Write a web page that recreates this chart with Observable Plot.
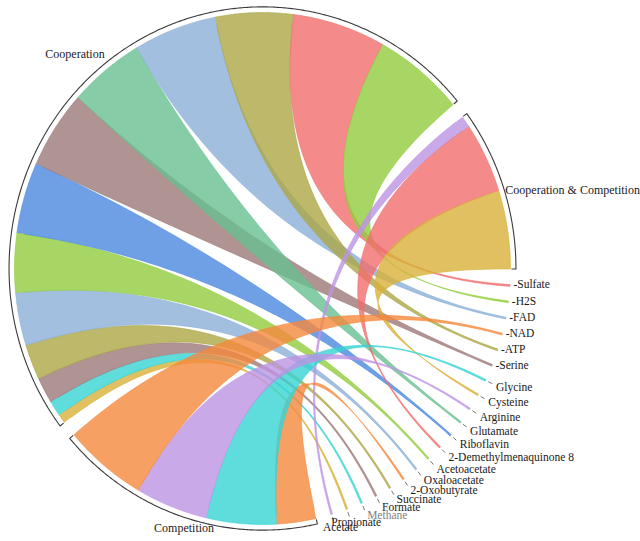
<!DOCTYPE html>
<html>
<head>
<meta charset="utf-8">
<script src="https://cdn.jsdelivr.net/npm/d3@7"></script>
<script src="https://cdn.jsdelivr.net/npm/@observablehq/plot@0.6"></script>
<style>
  body { margin: 0; background: #fff; }
</style>
</head>
<body>
<div id="chart"></div>
<script>
// Interaction types and the metabolites they exchange
const groups = ["Cooperation", "Cooperation & Competition", "Competition"];
const metabolites = [
  "Sulfate", "H2S", "FAD", "NAD", "ATP", "Serine", "Glycine", "Cysteine",
  "Arginine", "Glutamate", "Riboflavin", "2-Demethylmenaquinone 8",
  "Acetoacetate", "Oxaloacetate", "2-Oxobutyrate", "Succinate", "Formate",
  "Methane", "Propionate", "Acetate"
];

// Links of each group, listed clockwise along the group's arc
const coopTargets = ["Propionate", "Methane", "Formate", "Succinate", "Oxaloacetate",
  "Acetoacetate", "Riboflavin", "Serine", "Glutamate", "FAD", "ATP", "Sulfate", "H2S"];
const coopValues = [2.1, 3.5, 5.9, 8, 12, 13.5, 16.1, 17.8, 17.6, 19.5, 18.2, 21.8, 21.2];
const coopColors = ["gold", "turquoise", "brown", "olive", "steel", "green", "blue",
  "brown", "aqua", "steel", "olive", "salmon", "green"];

const mixTargets = ["Acetate", "2-Demethylmenaquinone 8", "Cysteine"];
const mixValues = [2.6, 16, 17.8];
const mixColors = ["purple", "salmon", "gold"];

const compTargets = ["2-Oxobutyrate", "Glycine", "Arginine", "NAD"];
const compValues = [9.2, 16.4, 16.9, 19.5];
const compColors = ["orange", "turquoise", "purple", "orange"];

// Ribbon palette
const palette = {
  green: "#92cc3e", salmon: "#f16d6d", olive: "#aca645", steel: "#8bafd8",
  aqua: "#68bf90", brown: "#9c7878", blue: "#4b88e0", turquoise: "#37d3d3",
  gold: "#d8b038", purple: "#bd94e4", orange: "#f5883d"
};

// ---- layout (angles in degrees, clockwise from 12 o'clock; values are in degrees) ----
const W = 640, H = 541;
const cx = 262, cy = 268, rx = 248, ry = 256;
const gap = 3.5, metaWidth = 0.4, startAngle = -127;
const total = d3.sum([...coopValues, ...mixValues, ...compValues]);
const metaStep = (360 - total - 4 * gap - metaWidth) / (metabolites.length - 1);

const links = [], arcs = [];
let a = startAngle;
function addGroup(name, targets, values, colors) {
  const a0 = a;
  targets.forEach((t, i) => {
    links.push({group: name, target: t, s0: a, s1: a + values[i], color: palette[colors[i]]});
    a += values[i];
  });
  arcs.push({name, a0, a1: a});
  a += gap;
}
addGroup(groups[0], coopTargets, coopValues, coopColors);
addGroup(groups[1], mixTargets, mixValues, mixColors);
const metaAngle = new Map(metabolites.map((m, i) => [m, a + i * metaStep]));
a += (metabolites.length - 1) * metaStep + metaWidth + gap;
addGroup(groups[2], compTargets, compValues, compColors);

// ---- geometry in unit-circle coordinates ----
const rad = d => d * Math.PI / 180;
const pt = (deg, r) => ({x: r * Math.sin(rad(deg)), y: -r * Math.cos(rad(deg))});
function arcPts(d0, d1, r, step = 0.4) {
  const n = Math.max(2, Math.ceil(Math.abs(d1 - d0) / step));
  return d3.range(n + 1).map(i => pt(d0 + (d1 - d0) * i / n, r));
}
// quadratic Bézier with its control point at the centre
function quad(p0, p2, n = 60) {
  return d3.range(1, n).map(i => {
    const t = i / n, u = 1 - t;
    return {x: u * u * p0.x + t * t * p2.x, y: u * u * p0.y + t * t * p2.y};
  });
}
function ribbon(l) {
  const t0 = metaAngle.get(l.target), t1 = t0 + metaWidth;
  return [
    ...arcPts(l.s0, l.s1, 1),
    ...quad(pt(l.s1, 1), pt(t0, 1)),
    ...arcPts(t0, t1, 1),
    ...quad(pt(t1, 1), pt(l.s0, 1))
  ];
}
const rb = 1.022, tickIn = 0.018;
function bracket(g) {
  return [pt(g.a0, rb - tickIn), ...arcPts(g.a0, g.a1, rb), pt(g.a1, rb - tickIn)];
}

// ---- labels ----
const metaLabels = metabolites.map(m => ({name: m, mid: metaAngle.get(m) + metaWidth / 2}));
const dashLabels = metaLabels.filter(d => d.mid < 115).map(d => ({...pt(d.mid, 1.006), text: "-" + d.name}));
const sideLabels = metaLabels.filter(d => d.mid >= 115 && d.mid < 157).map(d => ({...pt(d.mid, 1.04), text: d.name}));
const lowLabels = metaLabels.filter(d => d.mid >= 157).map(d => ({...pt(d.mid, 1.04), text: d.name}));
const ticks = metaLabels.filter(d => d.mid >= 115).map(d => {
  const p = pt(d.mid, 1.012), q = pt(d.mid, 1.03);
  return {x1: p.x, y1: p.y, x2: q.x, y2: q.y};
});
const mid = g => (g.a0 + g.a1) / 2;
const labelFor = (name, r) => { const g = arcs.find(d => d.name === name); return [{...pt(mid(g), r), text: name}]; };

const font = "'Liberation Serif', 'Times New Roman', serif";
const ink = "#1a1a1a";

const chart = Plot.plot({
  width: W,
  height: H,
  margin: 0,
  x: {type: "linear", domain: [-cx / rx, (W - cx) / rx], range: [0, W], axis: null},
  y: {type: "linear", domain: [-cy / ry, (H - cy) / ry], range: [0, H], axis: null},
  style: {background: "#fff", overflow: "visible"},
  marks: [
    ...links.map(l => Plot.line(ribbon(l), {
      x: "x", y: "y", fill: l.color, fillOpacity: 0.8,
      stroke: l.color, strokeOpacity: 0.95, strokeWidth: 0.6, curve: "linear"
    })),
    ...arcs.map(g => Plot.line(bracket(g), {
      x: "x", y: "y", stroke: "#3a3a3a", strokeWidth: 1.1, strokeLinecap: "butt"
    })),
    Plot.link(ticks, {x1: "x1", y1: "y1", x2: "x2", y2: "y2", stroke: "#555", strokeWidth: 0.8}),
    Plot.text(dashLabels, {x: "x", y: "y", text: "text", textAnchor: "start", dx: 2, dy: -1,
      fontFamily: font, fontSize: 11.5, fill: ink}),
    Plot.text(sideLabels, {x: "x", y: "y", text: "text", textAnchor: "start", dx: 1.5, dy: 2.5,
      fontFamily: font, fontSize: 11.5, fill: d => d.text === "Methane" ? "#808080" : ink}),
    Plot.text(lowLabels, {x: "x", y: "y", text: "text", textAnchor: "middle", dx: 6, dy: 3,
      fontFamily: font, fontSize: 11.5, fill: ink}),
    Plot.text(labelFor(groups[0], 1.07), {x: "x", y: "y", text: "text", textAnchor: "end", dx: 7,
      fontFamily: font, fontSize: 12, fill: ink}),
    Plot.text(labelFor(groups[1], 1.03), {x: "x", y: "y", text: "text", textAnchor: "start", dy: 4,
      fontFamily: font, fontSize: 12, fill: ink}),
    Plot.text(labelFor(groups[2], 1.06), {x: "x", y: "y", text: "text", textAnchor: "middle", dx: 5, dy: 2,
      fontFamily: font, fontSize: 12, fill: ink})
  ]
});
document.getElementById("chart").append(chart);
</script>
</body>
</html>
